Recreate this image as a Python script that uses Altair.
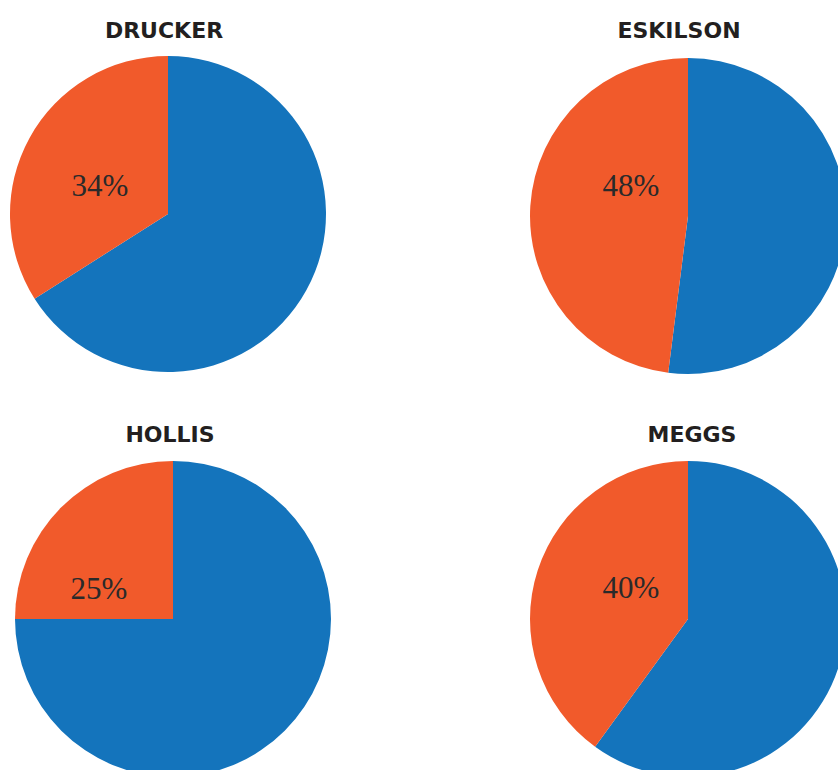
import altair as alt
import pandas as pd

authors = ["DRUCKER", "ESKILSON", "HOLLIS", "MEGGS"]
share_pct = [34, 48, 25, 40]
rest_pct = [66, 52, 75, 60]

# layout (panel sizes, pie centres inside panels, label offsets), not data
cell_w = [336, 318, 346, 318]
cell_h = [326, 326, 328, 328]
pie_cx = [168, 168, 173, 168]
pie_cy = [163, 165, 164, 164]
label_dx = [-68, -57, -74, -57]
label_dy = [-18, -20, -20, -21]
title_dx = [-4, 0, -3, 13]

BLUE = "#1474BC"
ORANGE = "#F15A2B"


def pie(i):
    a = authors[i]
    df = pd.DataFrame({
        "author": [a, a],
        "part": ["rest", "share"],
        "value": [rest_pct[i], share_pct[i]],
        "order": [1, 2],
    })
    W, H = cell_w[i], cell_h[i]
    arcs = alt.Chart(df).mark_arc(outerRadius=158, clip=True).encode(
        x=alt.value(pie_cx[i]), y=alt.value(pie_cy[i]),
        theta=alt.Theta("value:Q", stack=True),
        order=alt.Order("order:Q"),
        color=alt.Color("part:N", scale=alt.Scale(domain=["rest", "share"],
                                                  range=[BLUE, ORANGE]), legend=None),
    )
    text = alt.Chart(df).transform_filter(alt.datum.part == "share").transform_calculate(
        label="datum.value + '%'"
    ).mark_text(font="Liberation Serif", fontSize=31, color="#2a2a2a",
                baseline="alphabetic", align="center",
                dx=label_dx[i], dy=label_dy[i]).encode(
        x=alt.value(pie_cx[i]), y=alt.value(pie_cy[i]), text="label:N"
    )
    return alt.layer(arcs, text).properties(
        width=W, height=H,
        title=alt.TitleParams(a, font="DejaVu Sans", fontSize=22, fontWeight="bold",
                              color="#231f20", anchor="middle", baseline="alphabetic",
                              offset=-9, dx=title_dx[i]),
    )


row1 = alt.hconcat(pie(0), pie(1), spacing=184)
row2 = alt.hconcat(pie(2), pie(3), spacing=174)
chart = alt.vconcat(row1, row2, spacing=47).configure_view(stroke=None).properties(
    padding={"left": 0, "top": 20, "right": 0, "bottom": 0}
)

chart.save("out.html", embed_options={"renderer": "svg", "actions": False})
